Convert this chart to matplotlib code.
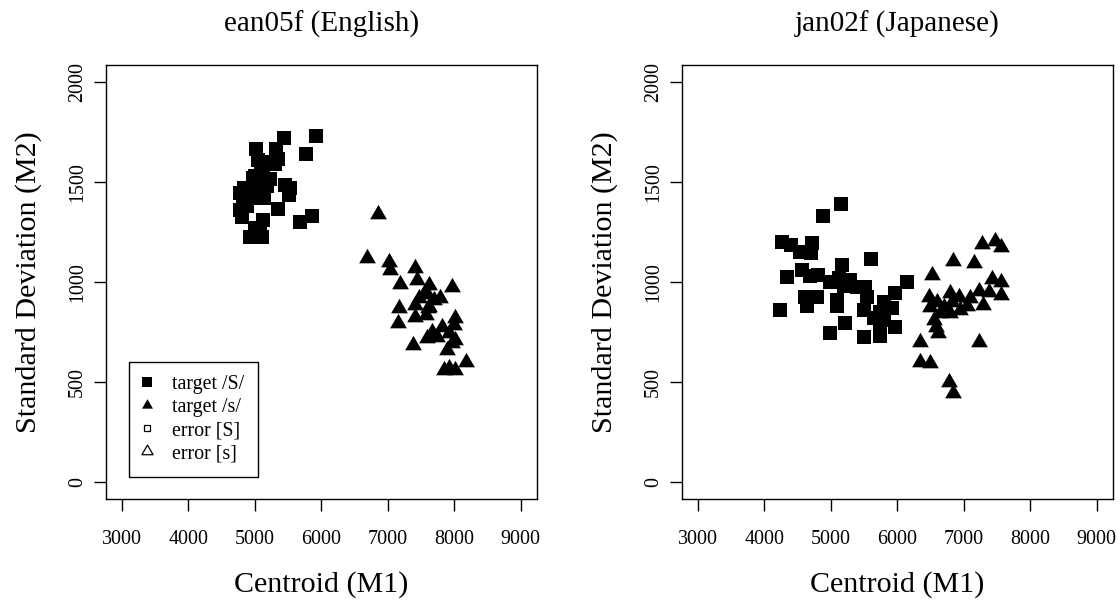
#!/usr/bin/env python3
import numpy as np
import matplotlib
matplotlib.use("Agg")
import matplotlib.pyplot as plt
from matplotlib.path import Path
from matplotlib.lines import Line2D

plt.rcParams['font.family'] = ['Liberation Serif', 'DejaVu Serif']

# ean05f (English): target /S/ (squares) and target /s/ (triangles)
eng_S_x = [5926, 5440, 5023, 5324, 5771, 5343, 5048, 5260, 5100, 5300,
           5130, 5000, 4973, 5233, 5080, 5459, 5535, 4832, 4900, 4781,
           5050, 5133, 4932, 5509, 4820, 4781, 4807, 5343, 5861, 5685,
           5123, 5008, 5083, 4922, 5108, 5180, 4880]
eng_S_y = [1731, 1720, 1665, 1665, 1640, 1615, 1611, 1600, 1580, 1590,
           1550, 1530, 1520, 1515, 1500, 1486, 1470, 1470, 1460, 1445,
           1440, 1420, 1420, 1436, 1410, 1361, 1328, 1366, 1331, 1303,
           1311, 1270, 1245, 1228, 1228, 1480, 1380]
eng_s_x = [6849, 6690, 7015, 7030, 7417, 7191, 7443, 7617, 7970, 7568,
           7793, 7467, 7694, 7166, 7417, 7617, 7568, 7417, 7151, 8019,
           7994, 7819, 7668, 7919, 7593, 7744, 8019, 7382, 7894, 7970,
           8170, 7919, 8019, 7844, 7550, 7600]
eng_s_y = [1341, 1120, 1103, 1061, 1070, 990, 1011, 986, 978, 953,
           920, 920, 911, 870, 886, 878, 836, 828, 795, 820,
           786, 778, 753, 745, 720, 728, 712, 686, 661, 695,
           603, 570, 561, 561, 940, 870]

# jan02f (Japanese)
jpn_S_x = [5154, 4882, 4265, 4717, 4401, 4541, 4702, 5605, 5169, 4566,
           4340, 4816, 4692, 5117, 6148, 5294, 4992, 5395, 5520, 5193,
           5971, 5545, 4616, 4792, 5093, 4641, 5093, 5795, 5922, 5494,
           5745, 4239, 5645, 5795, 5971, 5218, 5745, 4982, 5494, 5745]
jpn_S_y = [1392, 1333, 1203, 1198, 1187, 1153, 1145, 1117, 1087, 1061,
           1025, 1037, 1032, 1020, 1003, 1012, 1003, 975, 978, 982,
           945, 928, 925, 928, 911, 882, 882, 903, 870, 861,
           853, 861, 820, 811, 778, 798, 770, 748, 728, 732]
jpn_s_x = [7477, 7277, 7553, 6840, 7161, 6524, 7428, 7553, 7226, 6800,
           6473, 6925, 6825, 6599, 7377, 7553, 6699, 6498, 7292, 6790,
           6649, 6548, 6589, 6609, 7226, 6337, 6337, 6488, 6774, 6840,
           7050, 6950, 7100]
jpn_s_y = [1208, 1192, 1178, 1108, 1095, 1037, 1015, 1003, 958, 948,
           928, 925, 903, 903, 953, 937, 875, 878, 887, 848,
           845, 811, 778, 745, 703, 703, 603, 598, 503, 448,
           880, 860, 920]

titles = ["ean05f (English)", "jan02f (Japanese)"]
x_ticks = [3000, 4000, 5000, 6000, 7000, 8000, 9000]
y_ticks = [0, 500, 1000, 1500, 2000]
legend_labels = ["target /S/", "target /s/", "error [S]", "error [s]"]

# R-style triangle (pch 17), centred on its centroid
tri = Path([(0, 1.555), (1.347, -0.778), (-1.347, -0.778), (0, 1.555)],
           [Path.MOVETO, Path.LINETO, Path.LINETO, Path.CLOSEPOLY])


def draw_panel(ax, sx, sy, tx, ty, title):
    ax.plot(sx, sy, linestyle='none', marker='s', ms=9.9, mfc='black',
            mec='black', mew=0)
    ax.plot(tx, ty, linestyle='none', marker=tri, ms=13.9, mfc='black',
            mec='black', mew=0)
    ax.set_xlim(2760, 9240)
    ax.set_ylim(-83, 2085)
    ax.set_xticks(x_ticks)
    ax.set_yticks(y_ticks)
    for sp in ax.spines.values():
        sp.set_linewidth(1.0)
    ax.tick_params(axis='both', direction='out', length=8.6, width=1.0,
                   labelsize=14.4)
    ax.tick_params(axis='x', pad=14)
    ax.tick_params(axis='y', pad=5, labelrotation=90)
    for lab in ax.get_yticklabels():
        lab.set_va('center')
    ax.set_title(title, fontsize=21, pad=23.8)
    ax.set_xlabel("Centroid (M1)", fontsize=21.6)
    ax.set_ylabel("Standard Deviation (M2)", fontsize=21.6)
    ax.xaxis.set_label_coords(0.5, -0.2143)
    ax.xaxis.label.set_va('baseline')
    ax.yaxis.set_label_coords(-0.1617, 0.5)
    ax.yaxis.label.set_va('baseline')


fig = plt.figure(figsize=(11.2, 6.03), dpi=100)
ax1 = fig.add_axes([0.0944, 0.1725, 0.3848, 0.7197])
ax2 = fig.add_axes([0.6087, 0.1725, 0.3848, 0.7197])

draw_panel(ax1, eng_S_x, eng_S_y, eng_s_x, eng_s_y, titles[0])
draw_panel(ax2, jpn_S_x, jpn_S_y, jpn_s_x, jpn_s_y, titles[1])

handles = [
    Line2D([], [], linestyle='none', marker='s', ms=6.5, mfc='black', mec='black', mew=0),
    Line2D([], [], linestyle='none', marker=tri, ms=9.1, mfc='black', mec='black', mew=0),
    Line2D([], [], linestyle='none', marker='s', ms=4.8, mfc='white', mec='black', mew=0.9),
    Line2D([], [], linestyle='none', marker=tri, ms=9.3, mfc='white', mec='black', mew=0.9),
]
leg = ax1.legend(handles, legend_labels, loc='upper left',
                 bbox_to_anchor=(0.0548, 0.3164), borderaxespad=0,
                 fontsize=14.4, borderpad=0.66, handlelength=0.47,
                 handletextpad=1.02, labelspacing=0.21, fancybox=False,
                 framealpha=1, edgecolor='black')
leg.get_frame().set_linewidth(1.0)

fig.savefig("out.png", dpi=100)
